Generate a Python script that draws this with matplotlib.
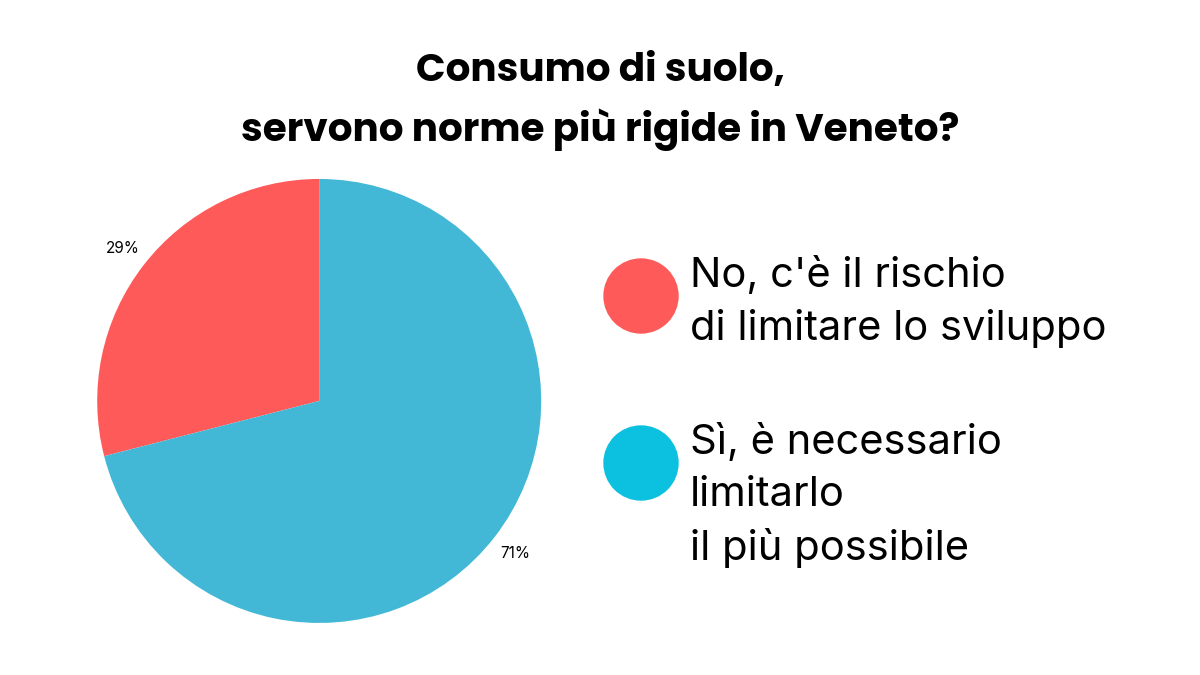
import matplotlib
matplotlib.use("Agg")
import matplotlib.pyplot as plt
from matplotlib.patches import Circle

categories = ["No, c'è il rischio\ndi limitare lo sviluppo", "Sì, è necessario\nlimitarlo\nil più possibile"]
values = [29, 71]
pie_colors = ["#FF5A5A", "#42B8D6"]
legend_colors = ["#FF5A5A", "#0CC0DF"]

fig = plt.figure(figsize=(12, 6.75), dpi=100)
fig.patch.set_facecolor("white")
fig.text(0.5, 0.85, "Consumo di suolo,\nservono norme più rigide in Veneto?", ha="center", va="center",
         fontsize=28, fontweight="bold", family=["Poppins", "Inter", "DejaVu Sans"], linespacing=1.55)

ax = fig.add_axes([0.266 - 0.185, 0.406 - 0.329, 0.37, 0.658])
wedges, texts = ax.pie(values, colors=pie_colors, startangle=90, counterclock=True,
                       labels=[f"{v}%" for v in values], labeldistance=1.12,
                       textprops=dict(fontsize=11, family="Inter"))
for t in texts:
    t.set_ha("center"); t.set_va("center")
ax.set_xlim(-1, 1); ax.set_ylim(-1, 1)
ax.set_aspect("equal")

lax = fig.add_axes([0, 0, 1, 1]); lax.set_xlim(0, 1200); lax.set_ylim(675, 0); lax.axis("off")
ys = [296, 463]
for y, c, lab in zip(ys, legend_colors, categories):
    lax.add_patch(Circle((641, y), 37, color=c))
    lax.text(690, y - 40, lab, ha="left", va="top", fontsize=30, family="Inter", linespacing=1.45)

fig.savefig("out.png", dpi=100)
